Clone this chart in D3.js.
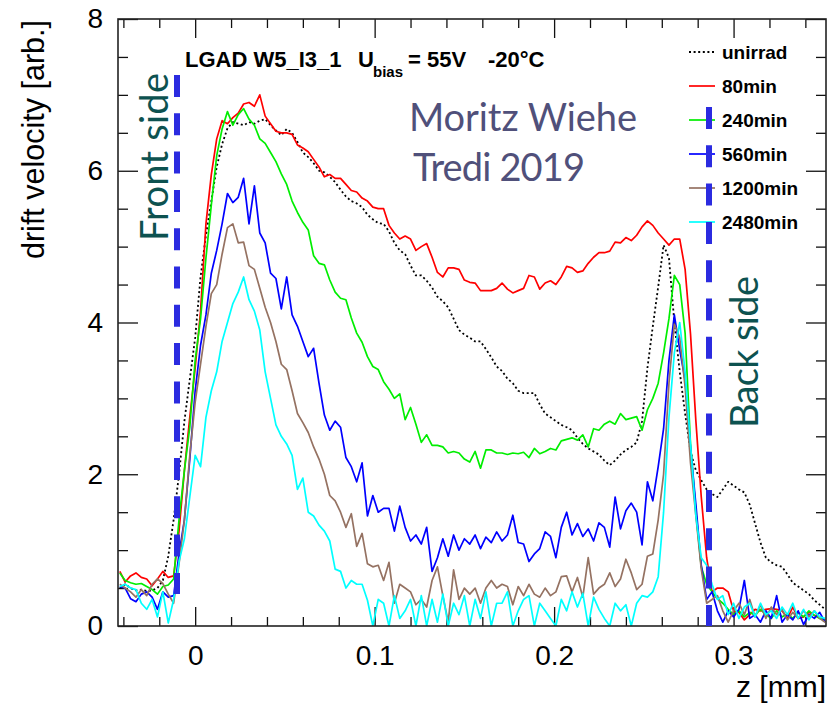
<!DOCTYPE html>
<html>
<head>
<meta charset="utf-8">
<script src="https://cdn.jsdelivr.net/npm/d3@7"></script>
<style>
  body { margin: 0; background: #fff; }
  svg { display: block; }
  text { font-family: "Liberation Sans", Arial, Helvetica, sans-serif; }
</style>
</head>
<body>
<script>
// z grid of the profiles (mm)
const zStart = -0.042, zStep = 0.003;

const legendLabels = ['unirrad', '80min', '240min', '560min', '1200min', '2480min'];

// drift velocity [arb.], one value per z step
const unirrad = [0.5,0.55,0.5,0.47,0.48,0.46,0.47,0.5,0.6,0.92, 1.4,2.0,2.7,3.25,3.8,4.6,5.15,5.6,6.05,6.35,
  6.56,6.64,6.62,6.6,6.64,6.62,6.66,6.68,6.6,6.53, 6.47,6.55,6.5,6.38,6.24,6.18,6.1,6.0,5.98,5.92,
  5.85,5.75,5.66,5.6,5.57,5.52,5.42,5.36,5.31,5.3, 5.2,5.05,4.95,4.9,4.75,4.62,4.62,4.55,4.46,4.34,
  4.28,4.2,4.05,3.9,3.84,3.8,3.75,3.75,3.65,3.54, 3.42,3.36,3.26,3.2,3.1,3.07,3.07,3.07,2.92,2.8,
  2.75,2.7,2.65,2.62,2.58,2.48,2.4,2.34,2.3,2.26, 2.18,2.12,2.18,2.26,2.32,2.36,2.42,2.7,3.4,3.95,
  4.47,5.02,4.85,4.0,3.35,2.8,2.3,2.05,1.92,1.8, 1.74,1.7,1.8,1.9,1.85,1.8,1.76,1.6,1.35,1.1,
  0.9,0.84,0.8,0.78,0.68,0.57,0.52,0.47,0.42,0.34, 0.28,0.22];

const min80 = [0.72,0.58,0.66,0.7,0.64,0.62,0.53,0.62,0.72,0.64, 0.66,1.25,2.05,2.75,3.4,4.15,5.3,5.95,6.42,6.66,
  6.62,6.7,6.76,6.88,6.9,6.85,7.0,6.72,6.62,6.52, 6.5,6.5,6.48,6.34,6.3,6.25,6.15,6.05,5.92,5.95,
  5.9,5.9,5.82,5.74,5.72,5.64,5.6,5.52,5.5,5.5, 5.28,5.18,5.1,5.14,5.1,4.95,5.0,5.04,4.86,4.66,
  4.6,4.72,4.72,4.7,4.56,4.53,4.52,4.42,4.42,4.42, 4.45,4.52,4.44,4.39,4.42,4.45,4.62,4.6,4.44,4.52,
  4.55,4.5,4.6,4.74,4.72,4.66,4.68,4.78,4.86,4.92, 4.92,4.94,5.06,5.05,5.12,5.08,5.15,5.26,5.34,5.28,
  5.18,5.1,5.02,5.1,5.1,4.7,3.85,2.7,1.7,0.9, 0.45,0.5,0.5,0.45,0.2,0.18,0.08,0.15,0.22,0.2,
  0.22,0.23,0.22,0.2,0.1,0.25,0.1,0.12,0.18,0.14, 0.12,0.08];

const min240 = [0.7,0.6,0.57,0.55,0.56,0.52,0.48,0.42,0.52,0.54, 0.62,1.4,2.05,2.62,3.5,4.05,4.85,5.55,6.2,6.55,
  6.78,6.6,6.74,6.82,6.68,6.6,6.42,6.36,6.24,6.12, 5.96,5.82,5.6,5.45,5.32,5.22,4.88,4.78,4.76,4.56,
  4.4,4.32,4.3,4.06,3.86,3.74,3.55,3.42,3.38,3.22, 3.12,3.0,3.06,2.72,2.88,2.66,2.42,2.52,2.38,2.38,
  2.36,2.28,2.3,2.28,2.2,2.16,2.3,2.08,2.32,2.32, 2.28,2.28,2.26,2.28,2.27,2.29,2.22,2.34,2.27,2.3,
  2.34,2.32,2.44,2.46,2.48,2.45,2.52,2.36,2.6,2.58, 2.66,2.7,2.66,2.8,2.72,2.74,2.76,2.58,2.85,3.0,
  3.2,3.6,4.05,4.62,4.5,3.86,2.4,1.5,0.78,0.55, 0.45,0.36,0.3,0.22,0.15,0.2,0.12,0.18,0.14,0.22,
  0.15,0.1,0.2,0.12,0.16,0.1,0.18,0.12,0.2,0.14, 0.1,0.08];

const min560 = [0.52,0.5,0.36,0.32,0.42,0.45,0.38,0.22,0.45,0.38, 0.4,0.95,1.4,2.2,3.1,3.7,4.1,4.65,4.95,5.3,
  5.7,5.58,5.65,5.9,5.3,5.8,5.18,5.05,4.65,4.58, 4.18,4.6,4.1,3.95,3.75,3.55,3.66,3.2,2.78,2.58,
  2.7,2.62,2.22,2.1,1.9,2.15,1.45,1.72,1.5,1.55, 1.55,1.25,1.58,1.3,1.12,1.2,1.08,1.3,0.72,0.9,
  1.15,0.92,1.2,1.0,1.15,1.08,1.2,1.02,1.17,1.1, 1.24,1.12,1.2,1.46,1.1,1.08,0.85,0.95,1.02,1.24,
  1.18,0.9,1.3,1.5,1.2,1.35,1.18,1.28,1.12,1.36, 1.3,1.04,1.7,1.28,1.52,1.62,1.5,1.07,1.9,1.65,
  2.1,2.6,3.5,4.1,3.64,3.24,2.35,1.6,0.8,0.35, 0.45,0.2,0.05,0.2,0.12,0.22,0.6,0.1,0.15,0.05,
  0.2,0.1,0.4,0.05,0.15,0.08,0.2,0.02,0.15,0.1, 0.18,0.05];

const min1200 = [0.55,0.5,0.45,0.38,0.48,0.4,0.55,0.62,0.56,0.42, 0.3,0.82,1.4,2.25,2.95,3.45,3.95,4.38,4.5,4.9,
  5.25,5.3,5.05,5.06,4.75,4.7,4.45,4.2,4.0,3.75, 3.45,3.38,3.1,2.8,2.68,2.55,2.36,2.2,2.0,1.72,
  1.65,1.5,1.3,1.48,1.05,1.22,0.82,0.78,0.8,0.6, 0.84,0.3,0.55,0.5,0.45,0.28,0.35,0.25,0.6,0.78,
  0.4,0.05,0.74,0.35,0.5,0.42,0.5,0.3,0.5,0.6, 0.5,0.55,0.52,0.28,0.52,0.4,0.55,0.42,0.38,0.5,
  0.4,0.45,0.65,0.66,0.45,0.64,0.38,0.9,0.42,0.5, 0.55,0.7,0.52,0.62,0.88,0.7,0.48,0.55,0.92,0.95,
  1.4,2.0,3.2,3.98,3.8,3.15,2.15,1.45,0.75,0.3, 0.35,0.4,0.2,0.05,0.2,0.3,0.15,0.35,0.12,0.28,
  0.1,0.25,0.15,0.22,0.08,0.18,0.1,0.2,0.12,0.2, 0.1,0.05];

const min2480 = [0.52,0.55,0.5,0.48,0.3,0.22,0.35,0.12,0.45,0.04, 0.35,0.85,1.15,1.7,2.25,2.1,2.75,3.1,3.35,3.75,
  4.0,4.25,4.4,4.6,4.3,4.15,3.9,3.35,3.0,2.65, 2.5,2.4,2.25,1.8,1.95,1.5,1.45,1.33,1.25,1.12,
  0.75,0.72,0.5,0.6,0.55,0.55,0.34,0.0,0.35,0.3, 0.0,0.4,0.1,0.2,0.35,0.0,0.4,0.0,0.35,0.05,
  0.42,0.0,0.3,0.15,0.4,0.0,0.35,0.1,0.45,0.0, 0.3,0.3,0.45,0.0,0.2,0.35,0.4,0.0,0.3,0.2,
  0.1,0.0,0.35,0.2,0.45,0.25,0.43,0.0,0.38,0.22, 0.1,0.0,0.3,0.2,0.28,0.0,0.3,0.4,0.38,0.45,
  0.65,1.5,2.75,3.6,4.0,3.35,2.4,1.45,0.9,0.8, 0.55,0.35,0.4,0.15,0.3,0.1,0.25,0.3,0.12,0.3,
  0.15,0.2,0.1,0.25,0.15,0.3,0.1,0.22,0.08,0.2, 0.12,0.1];

// axis ticks
const majorX = [0, 0.1, 0.2, 0.3];
const minorX = d3.range(-2, 18).filter(k => k % 5 !== 0).map(k => k * 0.02);
const majorY = [0, 2, 4, 6, 8];
const minorY = d3.range(1, 16).filter(k => k % 4 !== 0).map(k => k * 0.5);

const series = [
  { label: legendLabels[0], values: unirrad, color: '#000000', dash: '2,2.6' },
  { label: legendLabels[1], values: min80,   color: '#ff0000' },
  { label: legendLabels[2], values: min240,  color: '#00ee00' },
  { label: legendLabels[3], values: min560,  color: '#0000ff' },
  { label: legendLabels[4], values: min1200, color: '#957262' },
  { label: legendLabels[5], values: min2480, color: '#00ffff' }
];

const W = 836, H = 704;
const L = 118, R = 826, T = 19, B = 626;

const x = d3.scaleLinear().domain([-0.043, 0.3515]).range([L, R]);
const y = d3.scaleLinear().domain([0, 8]).range([B, T]);

const svg = d3.select('body').append('svg').attr('width', W).attr('height', H);

svg.append('clipPath').attr('id', 'plot')
  .append('rect').attr('x', L).attr('y', T).attr('width', R - L).attr('height', B - T);

// ticks, all pointing inwards like ROOT
function ticks(axis, tx, ty, vals, size, labels, pad) {
  const g = svg.append('g').attr('transform', `translate(${tx},${ty})`)
    .call(axis.tickValues(vals).tickSize(-size).tickPadding(pad || 0)
      .tickFormat(labels ? (d => d === 0 ? '0' : String(+d.toFixed(2))) : () => ''));
  g.select('.domain').remove();
  g.selectAll('line').attr('stroke', '#111').attr('stroke-width', 1.3);
  g.selectAll('text').attr('font-size', 28).attr('fill', '#000')
    .style('font-family', '"Liberation Sans", Arial, sans-serif');
  return g;
}
ticks(d3.axisBottom(x), 0, B, majorX, 19, true, 19);
ticks(d3.axisBottom(x), 0, B, minorX, 9);
ticks(d3.axisTop(x), 0, T, majorX, 19);
ticks(d3.axisTop(x), 0, T, minorX, 9);
ticks(d3.axisLeft(y), L, 0, majorY, 20, true, 15);
ticks(d3.axisLeft(y), L, 0, minorY, 10);
ticks(d3.axisRight(y), R, 0, majorY, 20);
ticks(d3.axisRight(y), R, 0, minorY, 10);

// profiles
const line = d3.line()
  .x((d, i) => x(zStart + i * zStep))
  .y(d => y(d));

svg.append('g').attr('clip-path', 'url(#plot)')
  .selectAll('path').data(series).join('path')
  .attr('d', d => line(d.values))
  .attr('fill', 'none')
  .attr('stroke', d => d.color)
  .attr('stroke-width', d => d.dash ? 1.8 : 1.7)
  .attr('stroke-dasharray', d => d.dash || null)
  .attr('stroke-linejoin', 'round');

// frame
svg.append('rect').attr('x', L).attr('y', T).attr('width', R - L).attr('height', B - T)
  .attr('fill', 'none').attr('stroke', '#222').attr('stroke-width', 1.6);

// axis titles
svg.append('text').attr('transform', `translate(44,${T + 1}) rotate(-90)`)
  .attr('text-anchor', 'end').attr('font-size', 30.5).text('drift velocity [arb.]');
svg.append('text').attr('x', R).attr('y', 697)
  .attr('text-anchor', 'end').attr('font-size', 30).text('z [mm]');

// title
const title = svg.append('g').attr('font-weight', 'bold').attr('font-size', 22);
title.append('text').attr('x', 185).attr('y', 67).text('LGAD W5_I3_1');
title.append('text').attr('x', 358).attr('y', 67).text('U');
title.append('text').attr('x', 373).attr('y', 77).attr('font-size', 15).text('bias');
title.append('text').attr('x', 408).attr('y', 67).text('= 55V');
title.append('text').attr('x', 488).attr('y', 67).text('-20°C');

// legend
const leg = svg.append('g').selectAll('g').data(series).join('g')
  .attr('transform', (d, i) => `translate(689,${59 + i * 34})`);
leg.append('line').attr('x1', 0).attr('x2', 26).attr('y1', -7).attr('y2', -7)
  .attr('stroke', d => d.color).attr('stroke-width', d => d.dash ? 1.8 : 1.7)
  .attr('stroke-dasharray', d => d.dash || null);
leg.append('text').attr('x', 33).attr('font-size', 19).attr('font-weight', 'bold')
  .text(d => d.label);

// sensor surfaces
const surf = svg.append('g').attr('stroke', '#2b2be0').attr('stroke-width', 6)
  .attr('stroke-dasharray', '22,16.3');
surf.append('line').attr('x1', 177).attr('x2', 177).attr('y1', 75).attr('y2', 594);
surf.append('line').attr('x1', 709).attr('x2', 709).attr('y1', 107).attr('y2', 626);

function note(txt, transform, len, color) {
  svg.append('text').attr('transform', transform)
    .attr('font-size', 38).style('font-family', 'Lato, "Open Sans", sans-serif')
    .attr('fill', color)
    .attr('textLength', len).attr('lengthAdjust', 'spacing')
    .text(txt);
}
note('Front side', 'translate(168,241) rotate(-90)', 168, '#0d5250');
note('Back side', 'translate(758,428) rotate(-90)', 152, '#0d5250');
note('Moritz Wiehe', 'translate(409,131)', 228, '#50507a');
note('Tredi 2019', 'translate(413,181)', 172, '#50507a');
</script>
</body>
</html>
